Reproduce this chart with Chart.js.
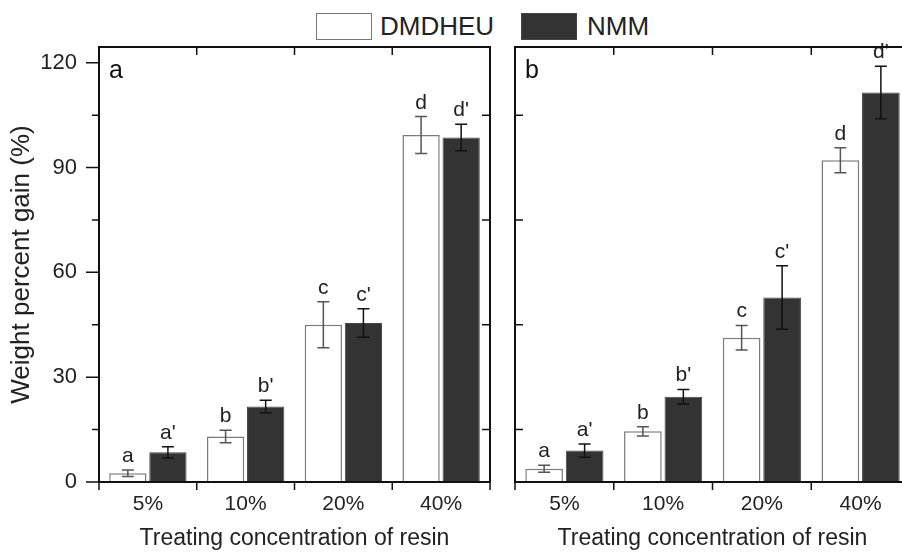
<!DOCTYPE html>
<html lang="en">
<head>
    <meta charset="UTF-8">
    <title>Weight percent gain</title>
    <script src="https://cdn.jsdelivr.net/npm/chart.js"></script>
    <style>
        body { margin: 0; width: 902px; height: 556px; overflow: hidden; position: relative; background: #fff; font-family: "Liberation Sans", Arial, sans-serif; }
        canvas { position: absolute; top: 0; }
        #chartA { left: 0; }
        #chartB { left: 500px; }
        .box { position: absolute; top: 13px; width: 56px; height: 27px; box-sizing: border-box; }
        .lbl { position: absolute; top: 11px; font-size: 26px; line-height: 30px; color: #222; }
    </style>
</head>
<body>
    <!-- shared legend above both panels -->
    <div class="box" style="left:316px; border:1.5px solid #777; background:#fff;"></div>
    <div class="lbl" style="left:380px;">DMDHEU</div>
    <div class="box" style="left:521px; background:#333; border:1px solid #444;"></div>
    <div class="lbl" style="left:587px;">NMM</div>

    <canvas id="chartA" width="500" height="556"></canvas>
    <canvas id="chartB" width="420" height="556"></canvas>

    <script>
        // data
        const categories = ['5%', '10%', '20%', '40%'];
        const seriesNames = ['DMDHEU', 'NMM'];

        const dmdheuA = [2.5, 13.0, 45.0, 99.3];
        const dmdheuErrA = [0.9, 1.8, 6.6, 5.3];
        const nmmA = [8.5, 21.6, 45.5, 98.6];
        const nmmErrA = [1.6, 1.8, 4.1, 3.8];

        const dmdheuB = [3.8, 14.5, 41.3, 92.1];
        const dmdheuErrB = [1.0, 1.3, 3.5, 3.6];
        const nmmB = [9.0, 24.4, 52.8, 111.5];
        const nmmErrB = [1.9, 2.1, 9.1, 7.5];

        const dmdheuLetters = ['a', 'b', 'c', 'd'];
        const nmmLetters = ["a'", "b'", "c'", "d'"];

        const yTickValues = [0, 15, 30, 45, 60, 75, 90, 105, 120];
        const yLabelStep = 30;
        const yMax = 124.5;

        const FONT = '"Liberation Sans", Arial, sans-serif';

        // error bars, letters, frame and ticks drawn on top of the bars
        const decorPlugin = {
            id: 'decor',
            afterDatasetsDraw(chart, args, opts) {
                const ctx = chart.ctx;
                const a = chart.chartArea;
                const xs = chart.scales.x, ys = chart.scales.y;
                ctx.save();

                chart.data.datasets.forEach((ds, i) => {
                    const meta = chart.getDatasetMeta(i);
                    meta.data.forEach((bar, j) => {
                        const v = ds.data[j], e = ds.errors[j];
                        const top = ys.getPixelForValue(v + e);
                        const bot = ys.getPixelForValue(v - e);
                        ctx.strokeStyle = ds.errColor;
                        ctx.lineWidth = 1.5;
                        ctx.beginPath();
                        ctx.moveTo(bar.x, top); ctx.lineTo(bar.x, bot);
                        ctx.moveTo(bar.x - 6, top); ctx.lineTo(bar.x + 6, top);
                        ctx.moveTo(bar.x - 6, bot); ctx.lineTo(bar.x + 6, bot);
                        ctx.stroke();

                        ctx.fillStyle = '#222';
                        ctx.font = '21px ' + FONT;
                        ctx.textAlign = 'center';
                        ctx.textBaseline = 'alphabetic';
                        ctx.fillText(ds.letters[j], bar.x, top - 8);
                    });
                });

                // frame
                ctx.strokeStyle = '#111';
                ctx.lineWidth = 2;
                ctx.strokeRect(a.left, a.top, a.right - a.left, a.bottom - a.top);

                // category boundary ticks: inward on top, outward on bottom
                ctx.lineWidth = 1.5;
                ctx.beginPath();
                for (let k = 0; k <= categories.length; k++) {
                    const px = xs.getPixelForValue(k - 0.5);
                    if (px > chart.width) continue;
                    ctx.moveTo(px, a.bottom); ctx.lineTo(px, a.bottom + 8);
                    if (k > 0 && k < categories.length) {
                        ctx.moveTo(px, a.top); ctx.lineTo(px, a.top + 8);
                    }
                }
                // y ticks
                yTickValues.forEach((v) => {
                    const py = ys.getPixelForValue(v);
                    const major = v % yLabelStep === 0;
                    if (opts.outerLeft) {
                        const len = major ? 13 : 7;
                        ctx.moveTo(a.left - len, py); ctx.lineTo(a.left, py);
                    } else if (!major) {
                        ctx.moveTo(a.left, py); ctx.lineTo(a.left + 8, py);
                    }
                    if (opts.innerRight && !major) {
                        ctx.moveTo(a.right, py); ctx.lineTo(a.right - 8, py);
                    }
                });
                ctx.stroke();

                // panel letter
                ctx.fillStyle = '#111';
                ctx.font = '25px ' + FONT;
                ctx.textAlign = 'left';
                ctx.textBaseline = 'alphabetic';
                ctx.fillText(opts.panel, a.left + 10, a.top + 31);
                ctx.restore();
            }
        };

        function buildChart(id, d1, e1, d2, e2, panel, isLeft, padding) {
            const ctx = document.getElementById(id).getContext('2d');
            return new Chart(ctx, {
                type: 'bar',
                data: {
                    labels: categories,
                    datasets: [{
                        label: seriesNames[0],
                        data: d1,
                        errors: e1,
                        letters: dmdheuLetters,
                        errColor: '#555',
                        backgroundColor: '#ffffff',
                        borderColor: '#7a7a7a',
                        borderWidth: 1.5,
                        categoryPercentage: 0.82,
                        barPercentage: 0.93
                    }, {
                        label: seriesNames[1],
                        data: d2,
                        errors: e2,
                        letters: nmmLetters,
                        errColor: '#111',
                        backgroundColor: '#333333',
                        borderColor: '#444444',
                        borderWidth: 1,
                        categoryPercentage: 0.82,
                        barPercentage: 0.93
                    }]
                },
                options: {
                    responsive: false,
                    animation: false,
                    layout: { padding: padding },
                    plugins: {
                        legend: { display: false },
                        tooltip: { enabled: false },
                        decor: { panel: panel, outerLeft: isLeft, innerRight: isLeft }
                    },
                    scales: {
                        x: {
                            offset: true,
                            grid: { display: false, drawTicks: false },
                            border: { display: false },
                            ticks: { color: '#222', padding: 10, font: { family: FONT, size: 21 } },
                            title: {
                                display: true,
                                text: 'Treating concentration of resin',
                                color: '#222',
                                font: { family: FONT, size: 23 },
                                padding: { top: 0, bottom: 4 }
                            },
                            afterFit: (s) => { s.height = 74; }
                        },
                        y: {
                            display: isLeft,
                            min: 0,
                            max: yMax,
                            grid: { display: false, drawTicks: false },
                            border: { display: false },
                            afterBuildTicks: (s) => { s.ticks = yTickValues.map(v => ({ value: v })); },
                            ticks: {
                                autoSkip: false,
                                padding: 22,
                                color: '#222',
                                font: { family: FONT, size: 22 },
                                callback: (v) => (v % yLabelStep === 0 ? v : '')
                            },
                            title: {
                                display: true,
                                text: 'Weight percent gain (%)',
                                color: '#222',
                                font: { family: FONT, size: 26 },
                                padding: { top: 6, bottom: 0 }
                            },
                            afterFit: (s) => { s.width = isLeft ? 99 : 0; }
                        }
                    }
                },
                plugins: [decorPlugin]
            });
        }

        buildChart('chartA', dmdheuA, dmdheuErrA, nmmA, nmmErrA, 'a', true,
            { left: 0, right: 10, top: 47, bottom: 0 });
        buildChart('chartB', dmdheuB, dmdheuErrB, nmmB, nmmErrB, 'b', false,
            { left: 15, right: 10, top: 47, bottom: 0 });
    </script>
</body>
</html>
